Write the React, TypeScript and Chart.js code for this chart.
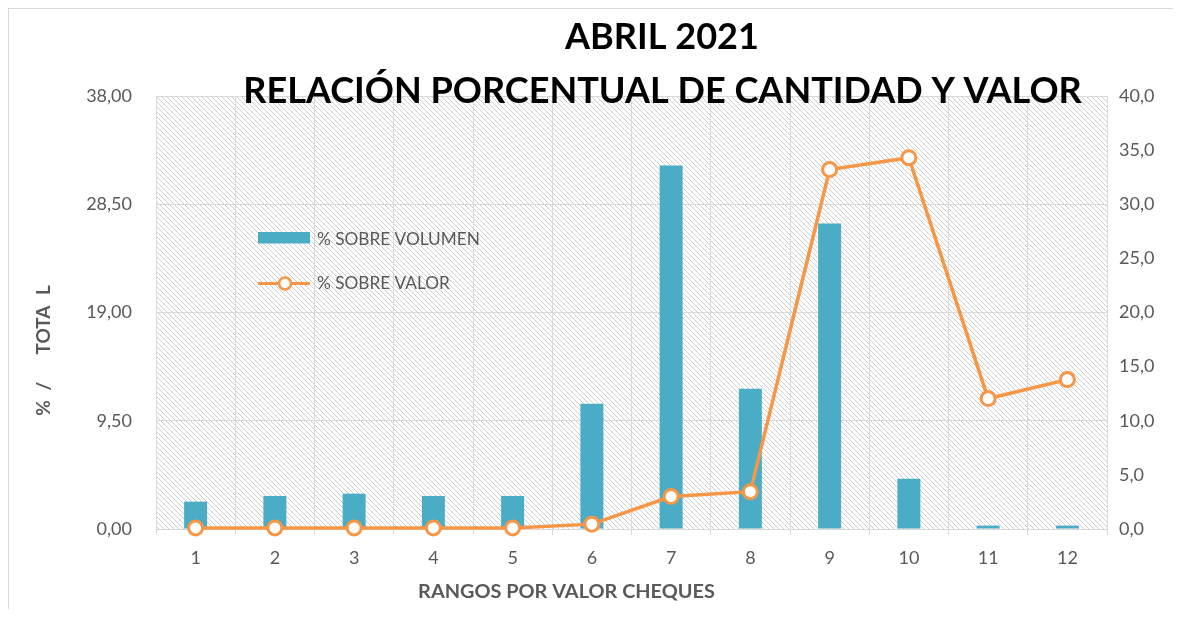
import React, { useEffect, useRef } from "react";
import { Chart, registerables } from "chart.js";

Chart.register(...registerables);

// ---- data ----
const categories = ["1", "2", "3", "4", "5", "6", "7", "8", "9", "10", "11", "12"];
const volumen = [2.4, 2.9, 3.1, 2.9, 2.9, 11.0, 31.9, 12.3, 26.8, 4.4, 0.3, 0.3];
const valor = [0.1, 0.1, 0.1, 0.1, 0.1, 0.45, 3.0, 3.45, 33.2, 34.3, 12.05, 13.8];
const leftTicks = [0, 9.5, 19, 28.5, 38];
const rightTicks = [0, 5, 10, 15, 20, 25, 30, 35, 40];
const titleLines = ["ABRIL 2021", "RELACIÓN PORCENTUAL DE CANTIDAD Y VALOR"];
const xTitle = "RANGOS POR VALOR CHEQUES";
const yTitleParts = ["%", "/", "TOTA", "L"];
const seriesNames = ["% SOBRE VOLUMEN", "% SOBRE VALOR"];

// ---- styles ----
const FONT = "Lato, 'Open Sans', sans-serif";
const TEAL = "#4BACC6";
const ORANGE = "#F79646";
const GRID = "#d9d9d9";
const TEXT = "#595959";

function fitSize(ctx: CanvasRenderingContext2D, text: string, weight: string, target: number, base = 30) {
  ctx.font = `${weight} ${base}px ${FONT}`;
  const w = ctx.measureText(text).width;
  return (base * target) / w;
}

function makeHatch(ctx: CanvasRenderingContext2D) {
  const s = 5;
  const c = document.createElement("canvas");
  c.width = s;
  c.height = s;
  const g = c.getContext("2d")!;
  g.fillStyle = "#ffffff";
  g.fillRect(0, 0, s, s);
  g.strokeStyle = "#cdcdcd";
  g.lineWidth = 1;
  g.beginPath();
  g.moveTo(-1, -1);
  g.lineTo(s + 1, s + 1);
  g.stroke();
  return ctx.createPattern(c, "repeat");
}

const decorPlugin = {
  id: "decor",
  beforeDraw(chart: any) {
    const { ctx, chartArea } = chart;
    const pat = makeHatch(ctx);
    ctx.save();
    if (pat) ctx.fillStyle = pat;
    ctx.fillRect(chartArea.left, chartArea.top, chartArea.right - chartArea.left, chartArea.bottom - chartArea.top);
    ctx.restore();
  },
  afterDraw(chart: any) {
    const { ctx } = chart;
    ctx.save();
    ctx.textBaseline = "alphabetic";
    // Title
    const ts = fitSize(ctx, titleLines[1], "bold", 839);
    ctx.fillStyle = "#000000";
    ctx.textAlign = "center";
    ctx.font = `bold ${ts}px ${FONT}`;
    ctx.fillText(titleLines[0], 653, 40);
    ctx.fillText(titleLines[1], 653.5, 94);

    // x axis title
    const xs = fitSize(ctx, xTitle, "bold", 297);
    ctx.fillStyle = TEXT;
    ctx.font = `bold ${xs}px ${FONT}`;
    ctx.fillText(xTitle, 557.5, 589);

    // y axis title
    ctx.save();
    ctx.translate(41, 341);
    ctx.rotate(-Math.PI / 2);
    ctx.font = `bold 19px ${FONT}`;
    ctx.textAlign = "center";
    ctx.fillText(yTitleParts[0], -58, 0);
    ctx.fillText(yTitleParts[1], -36, 0);
    ctx.fillText(yTitleParts[2], 20, 0);
    ctx.fillText(yTitleParts[3], 60, 0);
    ctx.restore();

    // Legend
    const ls = fitSize(ctx, seriesNames[0], "normal", 163);
    ctx.font = `${ls}px ${FONT}`;
    ctx.textAlign = "left";
    ctx.fillStyle = TEAL;
    ctx.fillRect(249, 223, 52, 11.5);
    ctx.fillStyle = TEXT;
    ctx.fillText(seriesNames[0], 308, 235.5);

    ctx.strokeStyle = ORANGE;
    ctx.lineWidth = 3;
    ctx.beginPath();
    ctx.moveTo(249, 274.5);
    ctx.lineTo(301, 274.5);
    ctx.stroke();
    ctx.beginPath();
    ctx.arc(276, 274.5, 6, 0, Math.PI * 2);
    ctx.fillStyle = "#ffffff";
    ctx.fill();
    ctx.lineWidth = 2.5;
    ctx.stroke();
    ctx.fillStyle = TEXT;
    ctx.fillText(seriesNames[1], 308, 279.5);
    ctx.restore();
  },
};

const fmt2 = (v: any) => Number(v).toFixed(2).replace(".", ",");
const fmt1 = (v: any) => Number(v).toFixed(1).replace(".", ",");

export default function App() {
  const ref = useRef<HTMLCanvasElement | null>(null);

  useEffect(() => {
    if (!ref.current) return;
    const tickFont = { family: FONT, size: 18 };
    const chart = new Chart(ref.current, {
      type: "bar",
      data: {
        labels: categories,
        datasets: [
          {
            type: "bar",
            label: seriesNames[0],
            data: volumen,
            yAxisID: "y",
            order: 1,
            backgroundColor: TEAL,
            barPercentage: 0.29,
            categoryPercentage: 1,
          } as any,
          {
            type: "line",
            label: seriesNames[1],
            data: valor,
            yAxisID: "y1",
            order: 0,
            borderColor: ORANGE,
            borderWidth: 3.5,
            pointRadius: 7,
            pointBorderWidth: 3,
            pointBackgroundColor: "#ffffff",
            pointBorderColor: ORANGE,
            tension: 0,
            clip: false,
          } as any,
        ],
      },
      options: {
        animation: false,
        responsive: true,
        maintainAspectRatio: false,
        layout: { padding: { top: 87, left: 0, right: 0, bottom: 0 } },
        plugins: {
          legend: { display: false },
          tooltip: { enabled: false },
          title: { display: false },
        },
        scales: {
          x: {
            grid: { color: GRID, offset: true, tickLength: 6, drawTicks: true, tickColor: GRID },
            border: { color: GRID },
            ticks: { color: TEXT, font: tickFont, padding: 12, maxRotation: 0 },
            afterFit: (s: any) => {
              s.height = 80;
            },
          },
          y: {
            position: "left",
            min: 0,
            max: 38,
            afterBuildTicks: (axis: any) => {
              axis.ticks = leftTicks.map((v) => ({ value: v }));
            },
            grid: { color: GRID, drawTicks: false },
            border: { display: false },
            ticks: { color: TEXT, font: tickFont, padding: 24, callback: fmt2 },
            afterFit: (s: any) => {
              s.width = 147;
            },
          },
          y1: {
            position: "right",
            min: 0,
            max: 40,
            afterBuildTicks: (axis: any) => {
              axis.ticks = rightTicks.map((v) => ({ value: v }));
            },
            grid: { display: false, drawTicks: false },
            border: { display: false },
            ticks: { color: TEXT, font: tickFont, padding: 12, callback: fmt1 },
            afterFit: (s: any) => {
              s.width = 71;
            },
          },
        },
      } as any,
      plugins: [decorPlugin],
    });
    return () => chart.destroy();
  }, []);

  return (
    <div
      style={{
        width: 1171,
        height: 601,
        boxSizing: "border-box",
        borderTop: "1px solid #d9d9d9",
        borderLeft: "1px solid #d9d9d9",
        borderRight: "1px solid #d9d9d9",
        position: "relative",
        background: "#ffffff",
      }}
    >
      <canvas ref={ref} />
    </div>
  );
}
